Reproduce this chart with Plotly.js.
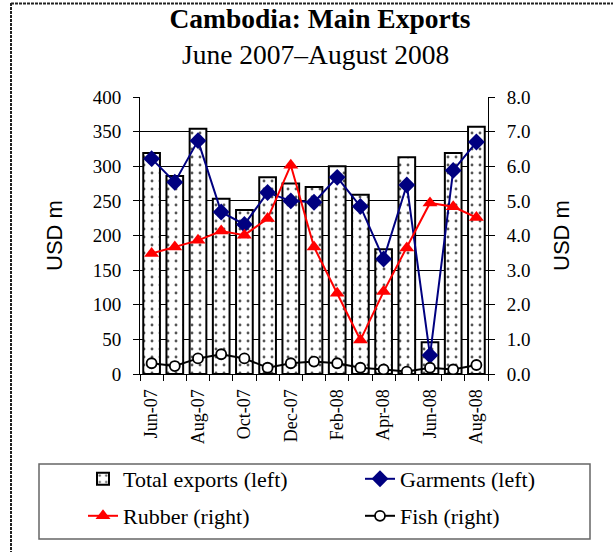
<!DOCTYPE html>
<html><head><meta charset="utf-8">
<script src="https://cdn.plot.ly/plotly-3.0.1.min.js"></script>
<style>html,body{margin:0;padding:0;background:#fff}#chart{width:613px;height:552px}</style>
</head><body><div id="chart"></div>
<script>
const months = ["Jun-07","Jul-07","Aug-07","Sep-07","Oct-07","Nov-07","Dec-07","Jan-08","Feb-08","Mar-08","Apr-08","May-08","Jun-08","Jul-08","Aug-08"];
const tickLabels = ["Jun-07","Aug-07","Oct-07","Dec-07","Feb-08","Apr-08","Jun-08","Aug-08"];
const totalExports = [319,286,354,253,237,284,275,270,300,259,180,313,46,319,357];
const garments = [311,277,337,234,216,262,250,248,284,242,166,273,27,294,335];
const rubber = [3.48,3.67,3.86,4.13,4.01,4.49,6.03,3.67,2.33,0.98,2.38,3.64,4.94,4.83,4.52];
const fish = [0.31,0.23,0.45,0.57,0.45,0.18,0.31,0.36,0.31,0.18,0.13,0.07,0.18,0.13,0.26];

const xi = months.map((m, i) => i);
const tickVals = tickLabels.map(l => months.indexOf(l));

const W = 613, H = 552, L = 140, R = 488, T = 97, B = 374;
const px = x => (x - L) / (R - L);
const py = y => (B - y) / (B - T);

const serif = "Liberation Serif, Times New Roman, serif";
const sans = "Liberation Sans, Arial, sans-serif";

const traces = [
  {type:'bar', name:'Total exports (left)', x:xi, y:totalExports, hovertext:months, hoverinfo:'text+y',
   marker:{color:'#ffffff', line:{color:'#000', width:2},
     pattern:{shape:'.', fgcolor:'#555', bgcolor:'#ffffff', size:8, solidity:0.1}},
   legend:'legend'},
  {type:'scatter', mode:'lines+markers', name:'Garments (left)', x:xi, y:garments, hovertext:months,
   line:{color:'#000080', width:2}, marker:{symbol:'diamond', size:13, color:'#000080'},
   legend:'legend2'},
  {type:'scatter', mode:'lines+markers', name:'Rubber (right)', x:xi, y:rubber, yaxis:'y2', hovertext:months,
   line:{color:'#ff0000', width:2}, marker:{symbol:'triangle-up', size:13, color:'#ff0000'},
   legend:'legend3'},
  {type:'scatter', mode:'lines+markers', name:'Fish (right)', x:xi, y:fish, yaxis:'y2', hovertext:months,
   line:{color:'#000', width:2}, marker:{symbol:'circle', size:10, color:'#fff', line:{color:'#000', width:1.8}},
   legend:'legend4'}
];

const legBase = {bgcolor:'rgba(0,0,0,0)', borderwidth:0, font:{family:serif, size:22, color:'#000'},
  xanchor:'left', yanchor:'top', orientation:'v'};

const tickFont = {family:serif, size:19, color:'#000'};

const layout = {
  width:W, height:H,
  margin:{l:L, r:W-R, t:T, b:H-B, pad:0},
  paper_bgcolor:'#fff', plot_bgcolor:'#fff',
  showlegend:true,
  bargap:0.28,
  title:{text:'<b>Cambodia: Main Exports</b>',
    font:{family:serif, size:27.5, color:'#000'}, xref:'paper', x:px(320), xanchor:'center',
    yref:'container', y:1-9/H, yanchor:'top'},
  annotations:[
    {text:'June 2007\u2013August 2008', xref:'paper', yref:'paper', x:px(315), y:py(54),
     xanchor:'center', yanchor:'middle', showarrow:false, font:{family:serif, size:27.5, color:'#000'}}
  ],
  xaxis:{range:[-0.5,14.5], tickmode:'array', tickvals:tickVals, ticktext:tickLabels,
    tickangle:-90, ticks:'', ticklabelstandoff:7, showgrid:false, zeroline:false, showline:true, linecolor:'#000', linewidth:1,
    tickfont:{family:serif, size:18, color:'#000'},
    minor:{tickmode:'linear', tick0:-0.5, dtick:1, ticks:'outside', ticklen:6, tickcolor:'#000', tickwidth:1, showgrid:false}},
  yaxis:{range:[0,400], dtick:50, ticks:'outside', ticklen:6, tickcolor:'#000', ticklabelstandoff:8,
    showgrid:true, gridcolor:'#000', gridwidth:1, zeroline:false, showline:true, linecolor:'#000', linewidth:1,
    tickfont:tickFont, automargin:true,
    title:{text:'USD m', standoff:24, font:{family:sans, size:22, color:'#000'}}},
  yaxis2:{range:[0,8], dtick:1, tickformat:'.1f', overlaying:'y', side:'right', ticks:'outside', ticklen:6, tickcolor:'#000', ticklabelstandoff:8,
    showgrid:false, zeroline:false, showline:true, linecolor:'#000', linewidth:1,
    tickfont:tickFont, automargin:true,
    title:{text:'USD m', standoff:24, font:{family:sans, size:22, color:'#000'}}},
  legend: Object.assign({}, legBase, {x:px(83), y:py(458)}),
  legend2: Object.assign({}, legBase, {x:px(360), y:py(458)}),
  legend3: Object.assign({}, legBase, {x:px(83), y:py(495)}),
  legend4: Object.assign({}, legBase, {x:px(360), y:py(495)}),
  shapes:[
    {type:'rect', xref:'paper', yref:'paper', x0:px(39), x1:px(590), y0:py(539), y1:py(464),
     line:{color:'#666', width:1.5}, fillcolor:'rgba(0,0,0,0)'},
    {type:'line', xref:'paper', yref:'paper', x0:px(11), x1:px(11), y0:py(3), y1:py(552),
     line:{color:'#222', width:2, dash:'3px,1px'}},
    {type:'line', xref:'paper', yref:'paper', x0:px(11), x1:px(613), y0:py(3.5), y1:py(3.5),
     line:{color:'#222', width:2, dash:'3px,1px'}}
  ]
};

Plotly.newPlot('chart', traces, layout, {displayModeBar:false, staticPlot:true});
</script></body></html>
